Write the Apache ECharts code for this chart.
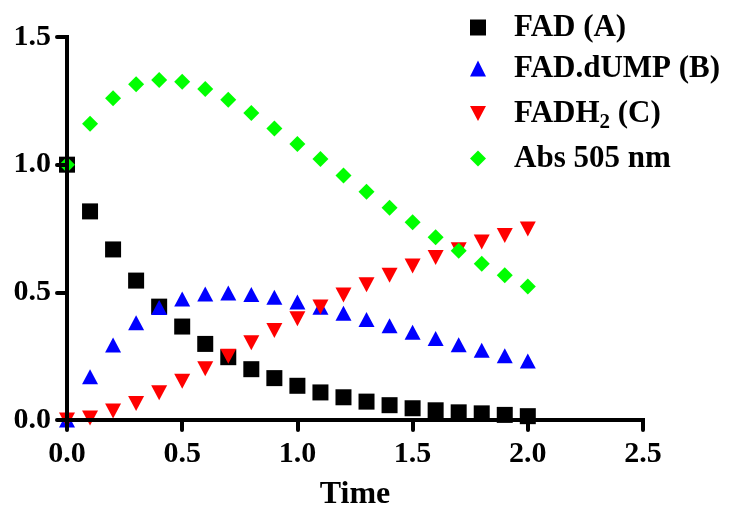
<!DOCTYPE html>
<html>
<head>
<meta charset="utf-8">
<script src="https://cdn.jsdelivr.net/npm/echarts@6/dist/echarts.min.js"></script>
<style>
html,body{margin:0;padding:0;background:#fff;}
#chart{width:734px;height:506px;}
</style>
</head>
<body>
<div id="chart"></div>
<script>
var time = [0.0, 0.1, 0.2, 0.3, 0.4, 0.5, 0.6, 0.7, 0.8, 0.9, 1.0, 1.1, 1.2, 1.3, 1.4, 1.5, 1.6, 1.7, 1.8, 1.9, 2.0];
var fadA = [1.0, 0.817, 0.668, 0.546, 0.444, 0.366, 0.298, 0.246, 0.199, 0.164, 0.134, 0.108, 0.089, 0.072, 0.058, 0.046, 0.038, 0.030, 0.026, 0.020, 0.015];
var fadDumpB = [0.0, 0.169, 0.294, 0.381, 0.441, 0.474, 0.493, 0.497, 0.492, 0.481, 0.462, 0.442, 0.418, 0.394, 0.369, 0.344, 0.319, 0.295, 0.273, 0.252, 0.231];
var fadh2C = [0.0, 0.008, 0.035, 0.065, 0.107, 0.152, 0.201, 0.250, 0.303, 0.351, 0.397, 0.443, 0.490, 0.530, 0.567, 0.603, 0.636, 0.667, 0.697, 0.723, 0.748];
var abs505 = [1.0, 1.160, 1.260, 1.315, 1.332, 1.325, 1.296, 1.254, 1.202, 1.142, 1.081, 1.022, 0.958, 0.894, 0.831, 0.774, 0.716, 0.663, 0.612, 0.567, 0.523];
var seriesNames = ['FAD (A)', 'FAD.dUMP (B)', 'FADH2 (C)', 'Abs 505 nm'];
var xTicks = [0, 0.5, 1.0, 1.5, 2.0, 2.5];
var yTicks = [0, 0.5, 1.0, 1.5];

function pairs(xs, ys) { return xs.map(function (x, i) { return [x, ys[i]]; }); }

var FONT = '"Liberation Serif", "Times New Roman", serif';
var DOWN_TRI = 'path://M0,0 L16,0 L8,15 Z';
var chart = echarts.init(document.getElementById('chart'), null, {renderer: 'canvas'});

var option = {
  animation: false,
  backgroundColor: '#ffffff',
  grid: {left: 67, right: 91, top: 37, bottom: 86, containLabel: false, outerBoundsMode: 'none'},
  legend: {
    orient: 'vertical',
    left: 470,
    top: 12,
    padding: 0,
    itemWidth: 16,
    itemHeight: 16,
    itemGap: 10,
    selectedMode: false,
    data: [
      {name: seriesNames[0], icon: 'rect'},
      {name: seriesNames[1], icon: 'triangle'},
      {name: seriesNames[2], icon: DOWN_TRI},
      {name: seriesNames[3], icon: 'diamond'}
    ],
    formatter: function (name) {
      if (name === 'FADH2 (C)') return '{sp|}{t|FADH}{sub|2}{t| (C)}';
      return '{sp|}{t|' + name + '}';
    },
    textStyle: {
      fontFamily: FONT,
      fontWeight: 'bold',
      fontSize: 31,
      color: '#000',
      rich: {
        sp: {width: 23, height: 38},
        t: {fontFamily: FONT, fontWeight: 'bold', fontSize: 31, lineHeight: 38, color: '#000'},
        sub: {fontFamily: FONT, fontWeight: 'bold', fontSize: 21, lineHeight: 20, padding: [18, 0, 0, 0], color: '#000'}
      }
    }
  },
  xAxis: {
    type: 'value',
    min: xTicks[0],
    max: xTicks[xTicks.length - 1],
    interval: 0.5,
    z: 5,
    name: 'Time',
    nameLocation: 'middle',
    nameGap: 59,
    nameTextStyle: {fontFamily: FONT, fontWeight: 'bold', fontSize: 32, color: '#000'},
    axisLine: {show: true, onZero: false, lineStyle: {color: '#000', width: 4, cap: 'square'}},
    axisTick: {show: true, inside: false, length: 10, lineStyle: {color: '#000', width: 4, cap: 'round'}},
    axisLabel: {
      margin: 19,
      fontFamily: FONT, fontWeight: 'bold', fontSize: 30, color: '#000',
      formatter: function (v) { return v.toFixed(1); }
    },
    splitLine: {show: false}
  },
  yAxis: {
    type: 'value',
    min: yTicks[0],
    max: yTicks[yTicks.length - 1],
    interval: 0.5,
    z: 5,
    axisLine: {show: true, onZero: false, lineStyle: {color: '#000', width: 4, cap: 'square'}},
    axisTick: {show: true, inside: false, length: 10, lineStyle: {color: '#000', width: 4, cap: 'round'}},
    axisLabel: {
      margin: 16,
      fontFamily: FONT, fontWeight: 'bold', fontSize: 30, color: '#000',
      formatter: function (v) { return v.toFixed(1); }
    },
    splitLine: {show: false}
  },
  series: [
    {name: seriesNames[0], type: 'scatter', clip: false, symbol: 'rect', symbolSize: 16,
     itemStyle: {color: '#000000', opacity: 1}, data: pairs(time, fadA)},
    {name: seriesNames[1], type: 'scatter', clip: false, symbol: 'triangle', symbolSize: [16, 15],
     itemStyle: {color: '#0000ff', opacity: 1}, data: pairs(time, fadDumpB)},
    {name: seriesNames[2], type: 'scatter', clip: false, symbol: 'triangle', symbolRotate: 180, symbolSize: [16, 15],
     itemStyle: {color: '#ff0000', opacity: 1}, data: pairs(time, fadh2C)},
    {name: seriesNames[3], type: 'scatter', clip: false, symbol: 'diamond', symbolSize: 16,
     itemStyle: {color: '#00ff00', opacity: 1}, data: pairs(time, abs505)}
  ]
};
chart.setOption(option);
</script>
</body>
</html>
